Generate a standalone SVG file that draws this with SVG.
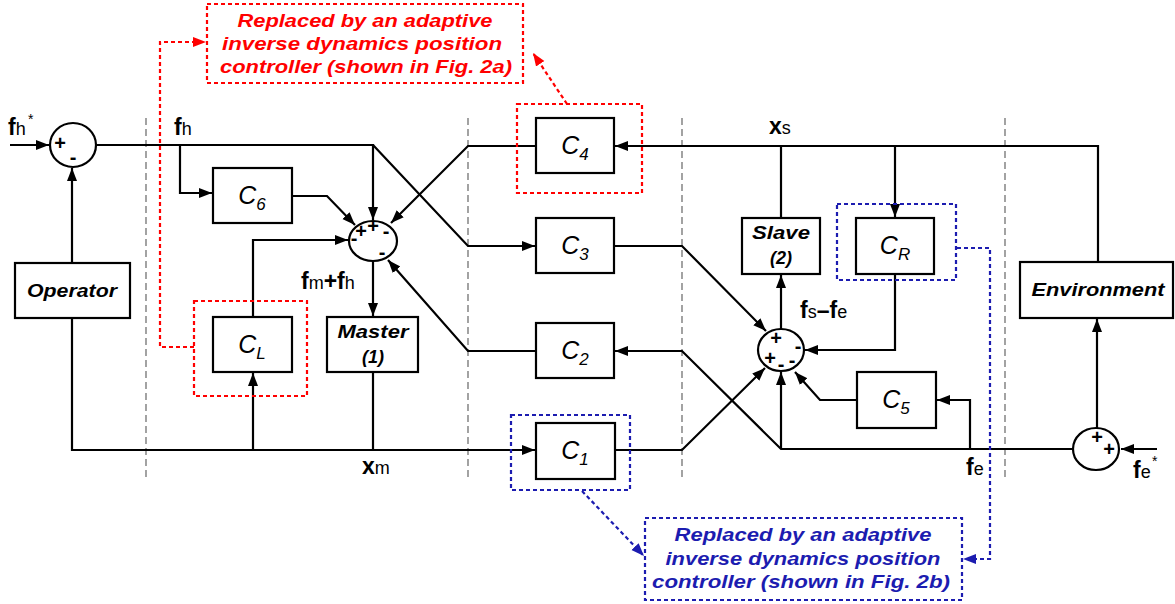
<svg xmlns="http://www.w3.org/2000/svg" width="1175" height="604" viewBox="0 0 1175 604">
<style>
.box{fill:#fff;stroke:#000;stroke-width:2.2}
.sum{fill:#fff;stroke:#000;stroke-width:2.2}
.wire{fill:none;stroke:#000;stroke-width:2.2}
.sep{fill:none;stroke:#666;stroke-width:1.2;stroke-dasharray:7,4}
.rd{fill:none;stroke:#f00;stroke-width:2.2;stroke-dasharray:4,3}
.bd{fill:none;stroke:#1c1cb0;stroke-width:2.2;stroke-dasharray:4,3}
.c{font-family:"Liberation Sans",Arial,sans-serif;font-style:italic;font-size:25px;text-anchor:middle}
.c tspan{font-size:17px}
.bl{font-family:"Liberation Sans",Arial,sans-serif;font-style:italic;font-weight:bold;font-size:18px;text-anchor:middle}
.note{font-family:"Liberation Sans",Arial,sans-serif;font-style:italic;font-weight:bold;font-size:18px;text-anchor:middle}
.sig{font-family:"Liberation Sans",Arial,sans-serif;font-weight:bold;font-size:23px}
.sig tspan.s{font-weight:normal;font-size:18px}
.sg{font-family:"Liberation Sans",Arial,sans-serif;font-size:20px;font-weight:bold;text-anchor:middle;dominant-baseline:central;fill:#000}
</style>
<defs>
<marker id="ah" markerUnits="userSpaceOnUse" markerWidth="14" markerHeight="12" refX="13" refY="6" orient="auto"><path d="M0,1 L13,6 L0,11 z" fill="#000"/></marker>
<marker id="ahr" markerUnits="userSpaceOnUse" markerWidth="14" markerHeight="12" refX="13" refY="6" orient="auto"><path d="M0,1 L13,6 L0,11 z" fill="#f00"/></marker>
<marker id="ahb" markerUnits="userSpaceOnUse" markerWidth="14" markerHeight="12" refX="13" refY="6" orient="auto"><path d="M0,1 L13,6 L0,11 z" fill="#1c1cb0"/></marker>
</defs>
<rect width="1175" height="604" fill="#fff"/>

<g id="separators">
<line class="sep" x1="146" y1="118" x2="146" y2="480"/>
<line class="sep" x1="468" y1="118" x2="468" y2="480"/>
<line class="sep" x1="682" y1="118" x2="682" y2="480"/>
<line class="sep" x1="1005" y1="118" x2="1005" y2="480"/>
</g>

<g id="connectors">
<path class="wire" d="M10,145 H49" marker-end="url(#ah)"/>
<path class="wire" d="M72,263 V168" marker-end="url(#ah)"/>
<path class="wire" d="M96,145 H373 V220" marker-end="url(#ah)"/>
<path class="wire" d="M373,145 L468,246 H535" marker-end="url(#ah)"/>
<path class="wire" d="M180,145 V193 H212" marker-end="url(#ah)"/>
<path class="wire" d="M292,196 H327 L355,225" marker-end="url(#ah)"/>
<path class="wire" d="M253,317 V240 H348" marker-end="url(#ah)"/>
<path class="wire" d="M72,318 V450 H535" marker-end="url(#ah)"/>
<path class="wire" d="M253,450 V373" marker-end="url(#ah)"/>
<path class="wire" d="M373,261 V316" marker-end="url(#ah)"/>
<path class="wire" d="M373,372 V450"/>
<path class="wire" d="M536,146 H468 L391,223" marker-end="url(#ah)"/>
<path class="wire" d="M536,351 H468 L388,260" marker-end="url(#ah)"/>
<path class="wire" d="M1098,262 V146 H615" marker-end="url(#ah)"/>
<path class="wire" d="M781,218 V146"/>
<path class="wire" d="M895,146 V217" marker-end="url(#ah)"/>
<path class="wire" d="M614,246 H682 L766,331" marker-end="url(#ah)"/>
<path class="wire" d="M615,450 H682 L765,368" marker-end="url(#ah)"/>
<path class="wire" d="M781,329 V275" marker-end="url(#ah)"/>
<path class="wire" d="M895,274 V350 H805" marker-end="url(#ah)"/>
<path class="wire" d="M857,400 H820 L795,372" marker-end="url(#ah)"/>
<path class="wire" d="M1073,449 H781 L682,351 H615" marker-end="url(#ah)"/>
<path class="wire" d="M781,449 V372" marker-end="url(#ah)"/>
<path class="wire" d="M970,449 V400 H937" marker-end="url(#ah)"/>
<path class="wire" d="M1157,449 H1121" marker-end="url(#ah)"/>
<path class="wire" d="M1097,428 V319" marker-end="url(#ah)"/>
<path class="rd" d="M194,347 H160 V42 H206" marker-end="url(#ahr)"/>
<path class="rd" d="M567,104 L533,53" marker-end="url(#ahr)"/>
<path class="bd" d="M582,491 L644,556" marker-end="url(#ahb)"/>
<path class="bd" d="M957,248 H990 V559 H963" marker-end="url(#ahb)"/>
</g>

<g id="sum1"><ellipse class="sum" cx="73" cy="145" rx="23" ry="22"/>
<text class="sg" x="60" y="143">+</text><text class="sg" x="73" y="157">-</text></g>

<g id="sum2"><ellipse class="sum" cx="373" cy="241" rx="24" ry="20"/>
<text class="sg" x="361" y="231">+</text><text class="sg" x="373" y="226">+</text><text class="sg" x="386" y="231">-</text>
<text class="sg" x="354" y="238">-</text><text class="sg" x="382" y="252">-</text></g>

<g id="sum3"><ellipse class="sum" cx="781" cy="350" rx="23" ry="21"/>
<text class="sg" x="776" y="338">+</text><text class="sg" x="798" y="346">-</text>
<text class="sg" x="770" y="358">+</text><text class="sg" x="781" y="364">-</text><text class="sg" x="792" y="360">-</text></g>

<g id="sum4"><ellipse class="sum" cx="1096" cy="449" rx="23" ry="21"/>
<text class="sg" x="1097" y="437">+</text><text class="sg" x="1109" y="449">+</text></g>

<g id="operator"><rect class="box" x="15" y="263" width="115" height="55"/>
<text class="bl" x="72" y="297" textLength="90" lengthAdjust="spacingAndGlyphs">Operator</text></g>

<g id="environment"><rect class="box" x="1020" y="262" width="153" height="56"/>
<text class="bl" x="1098" y="296" textLength="133" lengthAdjust="spacingAndGlyphs">Environment</text></g>

<g id="C6"><rect class="box" x="213" y="168" width="79" height="55"/>
<text class="c" x="252" y="204">C<tspan dy="6">6</tspan></text></g>

<g id="CL"><rect class="box" x="213" y="317" width="79" height="55"/>
<text class="c" x="252" y="353">C<tspan dy="6">L</tspan></text></g>

<g id="master"><rect class="box" x="327" y="317" width="91" height="55"/>
<text class="bl" x="373" y="338" textLength="71" lengthAdjust="spacingAndGlyphs">Master</text>
<text class="bl" x="373" y="363">(1)</text></g>

<g id="C4"><rect class="box" x="536" y="118" width="78" height="55"/>
<text class="c" x="575" y="154">C<tspan dy="6">4</tspan></text></g>

<g id="C3"><rect class="box" x="536" y="218" width="78" height="55"/>
<text class="c" x="575" y="254">C<tspan dy="6">3</tspan></text></g>

<g id="C2"><rect class="box" x="536" y="323" width="78" height="55"/>
<text class="c" x="575" y="359">C<tspan dy="6">2</tspan></text></g>

<g id="C1"><rect class="box" x="536" y="423" width="79" height="56"/>
<text class="c" x="575" y="459">C<tspan dy="6">1</tspan></text></g>

<g id="slave"><rect class="box" x="742" y="218" width="78" height="56"/>
<text class="bl" x="781" y="239" textLength="58" lengthAdjust="spacingAndGlyphs">Slave</text>
<text class="bl" x="781" y="264">(2)</text></g>

<g id="CR"><rect class="box" x="856" y="218" width="78" height="56"/>
<text class="c" x="895" y="254">C<tspan dy="6">R</tspan></text></g>

<g id="C5"><rect class="box" x="857" y="372" width="79" height="56"/>
<text class="c" x="896" y="408">C<tspan dy="6">5</tspan></text></g>

<g id="highlights">
<rect class="rd" x="194" y="301" width="113" height="95"/>
<rect class="rd" x="517" y="104" width="125" height="89"/>
<rect class="bd" x="511" y="415" width="119" height="75"/>
<rect class="bd" x="837" y="204" width="119" height="76"/>
</g>

<g id="note-red"><rect class="rd" x="207" y="4" width="316" height="79"/>
<text class="note" fill="#f00" x="365" y="27" textLength="255" lengthAdjust="spacingAndGlyphs">Replaced by an adaptive</text>
<text class="note" fill="#f00" x="362" y="50" textLength="280" lengthAdjust="spacingAndGlyphs">inverse dynamics position</text>
<text class="note" fill="#f00" x="366" y="73" textLength="292" lengthAdjust="spacingAndGlyphs">controller (shown in Fig. 2a)</text></g>

<g id="note-blue"><rect class="bd" x="645" y="518" width="317" height="82"/>
<text class="note" fill="#1c1cb0" x="803" y="541" textLength="257" lengthAdjust="spacingAndGlyphs">Replaced by an adaptive</text>
<text class="note" fill="#1c1cb0" x="803" y="565" textLength="275" lengthAdjust="spacingAndGlyphs">inverse dynamics position</text>
<text class="note" fill="#1c1cb0" x="801" y="588" textLength="298" lengthAdjust="spacingAndGlyphs">controller (shown in Fig. 2b)</text></g>

<g id="labels">
<text class="sig" x="8" y="135">f<tspan class="s">h</tspan></text>
<text class="sig" x="28" y="124" style="font-size:14px;font-weight:normal">*</text>
<text class="sig" x="174" y="135">f<tspan class="s">h</tspan></text>
<text class="sig" x="301" y="289">f<tspan class="s">m</tspan>+f<tspan class="s">h</tspan></text>
<text class="sig" x="362" y="474">x<tspan class="s">m</tspan></text>
<text class="sig" x="769" y="134">x<tspan class="s">s</tspan></text>
<text class="sig" x="800" y="318">f<tspan class="s">s</tspan>–f<tspan class="s">e</tspan></text>
<text class="sig" x="966" y="475">f<tspan class="s">e</tspan></text>
<text class="sig" x="1133" y="478">f<tspan class="s">e</tspan></text>
<text class="sig" x="1152" y="466" style="font-size:14px;font-weight:normal">*</text>
</g>
</svg>
